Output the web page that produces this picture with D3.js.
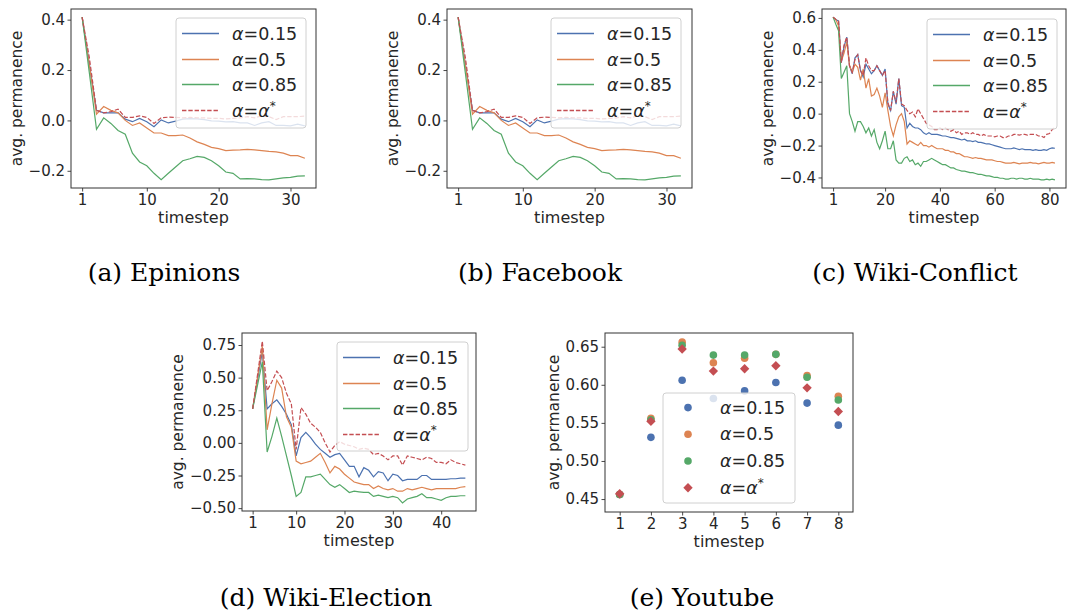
<!DOCTYPE html>
<html>
<head>
<meta charset="utf-8">
<script src="https://cdn.jsdelivr.net/npm/d3@7"></script>
<style>
  body { margin: 0; background: #fff; }
  text { font-family: "DejaVu Sans", sans-serif; fill: #262626; }
  .caption { font-family: "DejaVu Serif", serif; font-size: 25px; fill: #000; }
</style>
</head>
<body>
<svg id="chart" width="1067" height="616"></svg>
<script>
// ---------------- data ----------------
const legendValues = ["0.15", "0.5", "0.85", "*"];

// (a) Epinions
const epinionsBlue = [0.41, 0.225, 0.04, 0.03, 0.03, 0.03, 0.005, -0.005, 0.008, -0.005, -0.025, 0.002, -0.01, -0.003, 0.005, 0.007, 0.006, 0.003, -0.002, -0.003, -0.006, -0.005, -0.01, -0.01, -0.02, -0.01, -0.005, -0.02, -0.02, -0.022, -0.015, -0.022];
const epinionsOrange = [0.41, 0.22, 0.025, 0.055, 0.04, 0.03, 0.0, -0.02, -0.01, -0.03, -0.05, -0.05, -0.06, -0.06, -0.058, -0.07, -0.085, -0.095, -0.107, -0.112, -0.12, -0.118, -0.117, -0.115, -0.117, -0.12, -0.123, -0.125, -0.13, -0.14, -0.14, -0.15];
const epinionsGreen = [0.41, 0.19, -0.035, 0.01, -0.012, -0.04, -0.055, -0.13, -0.165, -0.18, -0.21, -0.235, -0.21, -0.185, -0.16, -0.152, -0.143, -0.147, -0.16, -0.18, -0.205, -0.21, -0.232, -0.231, -0.232, -0.235, -0.236, -0.232, -0.228, -0.226, -0.221, -0.22];
const epinionsRed = [0.41, 0.25, 0.04, 0.03, 0.035, 0.045, 0.012, 0.012, 0.018, 0.012, -0.012, 0.01, 0.013, 0.012, 0.01, 0.012, 0.01, 0.01, 0.008, 0.008, 0.006, 0.008, 0.01, 0.015, 0.01, 0.018, 0.015, 0.003, 0.015, 0.015, 0.015, 0.017];

// (b) Facebook (looks the same as Epinions in the figure)
const facebookBlue = [0.41, 0.225, 0.04, 0.03, 0.03, 0.03, 0.005, -0.005, 0.008, -0.005, -0.025, 0.002, -0.01, -0.003, 0.005, 0.007, 0.006, 0.003, -0.002, -0.003, -0.006, -0.005, -0.01, -0.01, -0.02, -0.01, -0.005, -0.02, -0.02, -0.022, -0.015, -0.022];
const facebookOrange = [0.41, 0.22, 0.025, 0.055, 0.04, 0.03, 0.0, -0.02, -0.01, -0.03, -0.05, -0.05, -0.06, -0.06, -0.058, -0.07, -0.085, -0.095, -0.107, -0.112, -0.12, -0.118, -0.117, -0.115, -0.117, -0.12, -0.123, -0.125, -0.13, -0.14, -0.14, -0.15];
const facebookGreen = [0.41, 0.19, -0.035, 0.01, -0.012, -0.04, -0.055, -0.13, -0.165, -0.18, -0.21, -0.235, -0.21, -0.185, -0.16, -0.152, -0.143, -0.147, -0.16, -0.18, -0.205, -0.21, -0.232, -0.231, -0.232, -0.235, -0.236, -0.232, -0.228, -0.226, -0.221, -0.22];
const facebookRed = [0.41, 0.25, 0.04, 0.03, 0.035, 0.045, 0.012, 0.012, 0.018, 0.012, -0.012, 0.01, 0.013, 0.012, 0.01, 0.012, 0.01, 0.01, 0.008, 0.008, 0.006, 0.008, 0.01, 0.015, 0.01, 0.018, 0.015, 0.003, 0.015, 0.015, 0.015, 0.017];

// (c) Wiki-Conflict
const conflictBlue = [0.605, 0.59, 0.58, 0.32, 0.42, 0.48, 0.30, 0.25, 0.35, 0.37,
  0.27, 0.23, 0.31, 0.28, 0.25, 0.27, 0.30, 0.27, 0.24, 0.28,
  0.06, 0.02, 0.14, 0.06, 0.22, 0.05, 0.04, -0.09, -0.06, -0.08,
  -0.09, -0.09, -0.10, -0.12, -0.13, -0.12, -0.13, -0.13, -0.13, -0.135,
  -0.14, -0.14, -0.145, -0.15, -0.15, -0.155, -0.16, -0.165, -0.16, -0.17,
  -0.17, -0.175, -0.17, -0.18, -0.18, -0.185, -0.19, -0.19, -0.195, -0.2,
  -0.205, -0.21, -0.215, -0.22, -0.22, -0.22, -0.215, -0.22, -0.225, -0.22,
  -0.225, -0.225, -0.225, -0.23, -0.225, -0.23, -0.23, -0.225, -0.23, -0.22,
  -0.215, -0.217];
const conflictOrange = [0.605, 0.59, 0.55, 0.33, 0.38, 0.45, 0.30, 0.26, 0.31, 0.29,
  0.21, 0.28, 0.16, 0.22, 0.11, 0.12, 0.16, 0.11, 0.04, 0.13,
  0.02, -0.08, -0.14, -0.07, -0.02, 0.0, -0.05, -0.19, -0.17, -0.18,
  -0.19, -0.2, -0.18, -0.2, -0.2, -0.21, -0.2, -0.21, -0.22, -0.22,
  -0.22, -0.23, -0.23, -0.24, -0.24, -0.25, -0.25, -0.26, -0.27, -0.27,
  -0.275, -0.28, -0.275, -0.28, -0.28, -0.285, -0.29, -0.29, -0.29, -0.295,
  -0.3, -0.3, -0.305, -0.31, -0.31, -0.31, -0.305, -0.31, -0.315, -0.31,
  -0.31, -0.31, -0.305, -0.31, -0.31, -0.315, -0.31, -0.305, -0.31, -0.31,
  -0.305, -0.31];
const conflictGreen = [0.605, 0.56, 0.52, 0.22, 0.26, 0.30, 0.0, -0.05, -0.11, -0.05,
  -0.05, -0.08, -0.12, -0.09, -0.14, -0.1, -0.18, -0.22, -0.17, -0.11,
  -0.22, -0.22, -0.17, -0.29, -0.31, -0.31, -0.28, -0.27, -0.3, -0.29,
  -0.32, -0.31, -0.33, -0.3, -0.3, -0.29, -0.28, -0.29, -0.3, -0.31,
  -0.32, -0.32, -0.33, -0.34, -0.34, -0.35, -0.355, -0.36, -0.36, -0.365,
  -0.37, -0.37, -0.375, -0.38, -0.38, -0.385, -0.39, -0.39, -0.395, -0.4,
  -0.4, -0.405, -0.405, -0.41, -0.41, -0.405, -0.405, -0.41, -0.405, -0.405,
  -0.41, -0.41, -0.405, -0.41, -0.41, -0.41, -0.415, -0.415, -0.41, -0.415,
  -0.41, -0.415];
const conflictRed = [0.605, 0.59, 0.58, 0.32, 0.43, 0.48, 0.30, 0.26, 0.34, 0.37,
  0.27, 0.24, 0.35, 0.30, 0.27, 0.27, 0.30, 0.27, 0.24, 0.27,
  0.07, 0.02, 0.14, 0.07, 0.22, 0.06, 0.05, 0.02, 0.0, 0.01,
  -0.02, 0.03, 0.0, -0.03, -0.06, -0.07, -0.08, -0.1, -0.1, -0.09,
  -0.1, -0.09, -0.1, -0.11, -0.1, -0.12, -0.11, -0.13, -0.12, -0.12,
  -0.13, -0.12, -0.13, -0.13, -0.14, -0.13, -0.14, -0.14, -0.14, -0.145,
  -0.14, -0.14, -0.15, -0.15, -0.14, -0.14, -0.13, -0.13, -0.135, -0.13,
  -0.13, -0.135, -0.13, -0.13, -0.13, -0.14, -0.14, -0.15, -0.13, -0.125,
  -0.1, -0.085];

// (d) Wiki-Election
const electionBlue = [0.26, 0.48, 0.70, 0.26, 0.30, 0.33, 0.28, 0.22, 0.14, -0.10,
  0.04, 0.08, 0.04, -0.01, -0.05, -0.08, -0.11, -0.09, -0.08, -0.13,
  -0.18, -0.18, -0.26, -0.19, -0.21, -0.26, -0.22, -0.23, -0.29, -0.24,
  -0.25, -0.29, -0.28, -0.28, -0.28, -0.25, -0.25, -0.28, -0.28, -0.28,
  -0.28, -0.275, -0.275, -0.27, -0.27];
const electionOrange = [0.26, 0.50, 0.74, 0.10, 0.30, 0.48, 0.42, 0.20, 0.12, -0.14,
  -0.16, -0.15, -0.14, -0.11, -0.08, -0.15, -0.23, -0.18, -0.20, -0.24,
  -0.27, -0.30, -0.31, -0.32, -0.32, -0.35, -0.33, -0.35, -0.36, -0.35,
  -0.37, -0.37, -0.35, -0.36, -0.35, -0.34, -0.35, -0.36, -0.35, -0.35,
  -0.35, -0.35, -0.35, -0.34, -0.335];
const electionGreen = [0.26, 0.44, 0.62, -0.07, 0.05, 0.19, 0.05, -0.10, -0.25, -0.41,
  -0.38, -0.26, -0.26, -0.25, -0.24, -0.28, -0.32, -0.34, -0.32, -0.35,
  -0.38, -0.37, -0.375, -0.38, -0.38, -0.41, -0.40, -0.41, -0.42, -0.41,
  -0.42, -0.46, -0.43, -0.42, -0.41, -0.39, -0.42, -0.42, -0.43, -0.44,
  -0.42, -0.41, -0.41, -0.405, -0.405];
const electionRed = [0.26, 0.52, 0.78, 0.40, 0.47, 0.55, 0.50, 0.38, 0.30, -0.05,
  0.27, 0.22, 0.15, 0.12, 0.08, 0.0, -0.07, -0.02, 0.01, -0.01,
  -0.02, -0.03, -0.05, -0.04, -0.05, -0.09, -0.08, -0.10, -0.13, -0.10,
  -0.10, -0.17, -0.10, -0.11, -0.12, -0.13, -0.11, -0.12, -0.15, -0.15,
  -0.16, -0.13, -0.15, -0.16, -0.17];

// (e) Youtube
const youtubeSteps = [1, 2, 3, 4, 5, 6, 7, 8];
const youtubeBlue = [0.456, 0.531, 0.606, 0.582, 0.592, 0.603, 0.576, 0.547];
const youtubeOrange = [0.456, 0.556, 0.656, 0.629, 0.635, 0.640, 0.612, 0.585];
const youtubeGreen = [0.456, 0.554, 0.652, 0.639, 0.639, 0.640, 0.610, 0.580];
const youtubeRed = [0.457, 0.552, 0.647, 0.618, 0.621, 0.625, 0.596, 0.565];

const colors = ["#4c72b0", "#dd8452", "#55a868", "#c44e52"];
const frameColor = "#333";

const svg = d3.select("#chart");

// --------------- helpers ---------------
function legendLabel(sel, v) {
  sel.append("tspan").attr("font-style", "italic").text("α");
  sel.append("tspan").text("=");
  if (v === "*") {
    sel.append("tspan").attr("font-style", "italic").text("α");
    sel.append("tspan").attr("dy", -7).attr("font-size", "12px").text("*");
  } else {
    sel.append("tspan").text(v);
  }
}

function drawAxes(g, x, y, box, xTicks, yTicks, yFmt) {
  const [bx, by, bw, bh] = box;
  const xAxis = g.append("g")
    .attr("transform", `translate(0,${by + bh})`)
    .call(d3.axisBottom(x).tickValues(xTicks).tickSize(3.5).tickPadding(2.5).tickSizeOuter(0));
  const yAxis = g.append("g")
    .attr("transform", `translate(${bx},0)`)
    .call(d3.axisLeft(y).tickValues(yTicks).tickFormat(d3.format(yFmt)).tickSize(3.5).tickPadding(2.5).tickSizeOuter(0));
  [xAxis, yAxis].forEach(a => {
    a.select(".domain").remove();
    a.selectAll(".tick line").attr("stroke", frameColor).attr("stroke-width", 0.9);
    a.selectAll(".tick text").attr("font-size", "15px").attr("fill", "#262626")
      .attr("font-family", "DejaVu Sans");
  });

  g.append("rect")
    .attr("x", bx).attr("y", by).attr("width", bw).attr("height", bh)
    .attr("fill", "none").attr("stroke", frameColor).attr("stroke-width", 1);

  g.append("text")
    .attr("x", bx + bw / 2).attr("y", by + bh + 35)
    .attr("text-anchor", "middle").attr("font-size", "16px")
    .text("timestep");

  // y label sits just left of the widest tick label
  const yb = yAxis.node().getBBox();
  g.append("text")
    .attr("transform", `translate(${bx + yb.x - 7},${by + bh / 2}) rotate(-90)`)
    .attr("text-anchor", "middle").attr("font-size", "15.5px")
    .text("avg. permanence");
}

function drawLegendBox(g, lg) {
  g.append("rect")
    .attr("x", lg[0]).attr("y", lg[1]).attr("width", lg[2]).attr("height", lg[3])
    .attr("rx", 3).attr("fill", "#fff").attr("fill-opacity", 0.8)
    .attr("stroke", "#d0d0d0").attr("stroke-width", 1);
}

// --------------- line panels ---------------
function linePanel(p) {
  const g = svg.append("g");
  const [bx, by, bw, bh] = p.box;
  const n = p.series[0].length;
  const steps = d3.range(1, n + 1);
  const xPad = 0.05 * (n - 1);
  const x = d3.scaleLinear().domain([1 - xPad, n + xPad]).range([bx, bx + bw]);
  const all = p.series.flat();
  const lo = d3.min(all), hi = d3.max(all), m = 0.05 * (hi - lo);
  const y = d3.scaleLinear().domain([lo - m, hi + m]).range([by + bh, by]);

  const line = d3.line().x((d, i) => x(steps[i])).y(d => y(d));
  p.series.forEach((vals, k) => {
    g.append("path")
      .datum(vals)
      .attr("d", line)
      .attr("fill", "none")
      .attr("stroke", colors[k])
      .attr("stroke-width", 1.2)
      .attr("stroke-dasharray", k === 3 ? "4.4,1.9" : null);
  });

  drawAxes(g, x, y, p.box, p.xTicks, p.yTicks, p.yFmt);

  // legend
  const lg = p.legend;
  drawLegendBox(g, lg);
  legendValues.forEach((v, i) => {
    const cy = Math.round(lg[1] + 15 + i * 25.5) + 0.5;
    g.append("path")
      .attr("d", `M${lg[0] + 6},${cy}H${lg[0] + 43}`)
      .attr("fill", "none")
      .attr("stroke", colors[i]).attr("stroke-width", 1.3)
      .attr("stroke-dasharray", i === 3 ? "4.4,1.9" : null);
    g.append("text")
      .attr("x", lg[0] + 56).attr("y", cy + 6)
      .attr("font-size", "17.5px")
      .call(legendLabel, v);
  });

  svg.append("text").attr("class", "caption")
    .attr("x", p.caption[0]).attr("y", p.caption[1])
    .attr("text-anchor", "middle").text(p.title);
}

linePanel({
  series: [epinionsBlue, epinionsOrange, epinionsGreen, epinionsRed],
  box: [71, 9, 245, 179], legend: [176, 18, 130, 110],
  xTicks: [1, 10, 20, 30], yTicks: [-0.2, 0, 0.2, 0.4], yFmt: ".1f",
  caption: [164, 281], title: "(a) Epinions"
});
linePanel({
  series: [facebookBlue, facebookOrange, facebookGreen, facebookRed],
  box: [447, 9, 245, 179], legend: [551, 18, 130, 110],
  xTicks: [1, 10, 20, 30], yTicks: [-0.2, 0, 0.2, 0.4], yFmt: ".1f",
  caption: [540, 281], title: "(b) Facebook"
});
linePanel({
  series: [conflictBlue, conflictOrange, conflictGreen, conflictRed],
  box: [822, 9, 244, 179], legend: [927, 19, 130, 110],
  xTicks: [1, 20, 40, 60, 80], yTicks: [-0.4, -0.2, 0, 0.2, 0.4, 0.6], yFmt: ".1f",
  caption: [915, 281], title: "(c) Wiki-Conflict"
});
linePanel({
  series: [electionBlue, electionOrange, electionGreen, electionRed],
  box: [242, 333, 234, 178], legend: [337, 342, 131, 109],
  xTicks: [1, 10, 20, 30, 40], yTicks: [-0.5, -0.25, 0, 0.25, 0.5, 0.75], yFmt: ".2f",
  caption: [326, 606], title: "(d) Wiki-Election"
});

// --------------- scatter panel (e) ---------------
(function () {
  const g = svg.append("g");
  const box = [605, 333, 248, 179];
  const [bx, by, bw, bh] = box;
  const x = d3.scaleLinear().domain([0.53, 8.47]).range([bx, bx + bw]);
  const y = d3.scaleLinear().domain([0.433, 0.668]).range([by + bh, by]);
  const series = [youtubeBlue, youtubeOrange, youtubeGreen, youtubeRed];
  const diamond = d3.symbol(d3.symbolSquare, 44);

  series.forEach((vals, k) => {
    if (k < 3) {
      g.selectAll(null).data(vals).enter().append("circle")
        .attr("cx", (d, i) => x(youtubeSteps[i])).attr("cy", d => y(d))
        .attr("r", 3.8).attr("fill", colors[k]);
    } else {
      g.selectAll(null).data(vals).enter().append("path")
        .attr("d", diamond)
        .attr("transform", (d, i) => `translate(${x(youtubeSteps[i])},${y(d)}) rotate(45)`)
        .attr("fill", colors[k]);
    }
  });

  drawAxes(g, x, y, box, youtubeSteps, [0.45, 0.5, 0.55, 0.6, 0.65], ".2f");

  const lg = [663, 393, 132, 110];
  drawLegendBox(g, lg);
  legendValues.forEach((v, i) => {
    const cy = lg[1] + 14.6 + i * 26.7;
    if (i < 3) {
      g.append("circle").attr("cx", lg[0] + 25).attr("cy", cy).attr("r", 3.8).attr("fill", colors[i]);
    } else {
      g.append("path").attr("d", diamond)
        .attr("transform", `translate(${lg[0] + 25},${cy}) rotate(45)`)
        .attr("fill", colors[i]);
    }
    g.append("text")
      .attr("x", lg[0] + 57).attr("y", cy + 6)
      .attr("font-size", "17.5px")
      .call(legendLabel, v);
  });

  svg.append("text").attr("class", "caption")
    .attr("x", 702).attr("y", 606)
    .attr("text-anchor", "middle").text("(e) Youtube");
})();
</script>
</body>
</html>
